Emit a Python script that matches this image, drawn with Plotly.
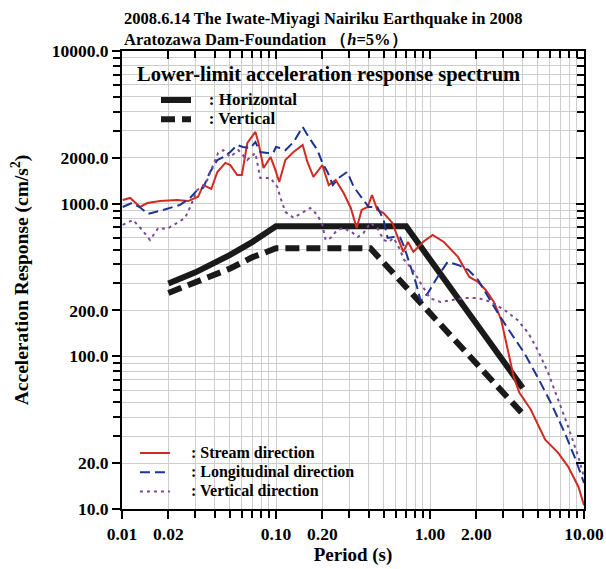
import plotly.graph_objects as go

SERIF = "Liberation Serif"

# lower-limit design spectra (period s, acceleration cm/s2)
design_h_t = [0.02, 0.03, 0.05, 0.07, 0.1, 0.7, 4.0]
design_h_a = [300, 355, 460, 560, 710, 710, 62]
design_v_t = [0.02, 0.03, 0.05, 0.07, 0.1, 0.41, 4.0]
design_v_a = [260, 305, 375, 445, 510, 510, 42]

# observed spectra at the foundation
stream_t = [0.0101, 0.0113, 0.0131, 0.0146, 0.0177, 0.0228, 0.0269, 0.0312, 0.0337, 0.038,
            0.0416, 0.0469, 0.0505, 0.056, 0.06, 0.0652, 0.0735, 0.077, 0.083, 0.0922,
            0.099, 0.105, 0.115, 0.13, 0.149, 0.16, 0.175, 0.2, 0.22, 0.244,
            0.275, 0.306, 0.334, 0.36, 0.394, 0.42, 0.455, 0.5, 0.57, 0.62,
            0.67, 0.72, 0.78, 0.9, 1.04, 1.23, 1.52, 1.8, 2.05, 2.3,
            2.6, 2.9, 3.2, 3.5, 3.8, 4.5, 5.6, 6.8, 7.9, 9.2, 10.0]
stream_a = [1057, 1090, 951, 1010, 1040, 1057, 1040, 1110, 1325, 1248,
            1613, 1848, 1790, 1541, 1540, 2500, 2950, 2500, 1713, 2023,
            1663, 1387, 1932, 2180, 2423, 1875, 1496, 1792, 1325, 1429,
            1175, 937, 693, 910, 951, 1140, 910, 869, 748, 605,
            483, 561, 483, 561, 624, 561, 448, 331, 307, 272,
            227, 173, 110, 73, 58, 45, 28.4, 23.3, 18.9, 14.0, 10.6]

longi_t = [0.0101, 0.0116, 0.013, 0.0148, 0.0185, 0.0238, 0.0277, 0.0308, 0.0337, 0.037,
           0.0416, 0.0455, 0.0505, 0.056, 0.061, 0.068, 0.0735, 0.079, 0.088, 0.096,
           0.1, 0.107, 0.115, 0.13, 0.149, 0.163, 0.186, 0.2, 0.216, 0.234,
           0.255, 0.29, 0.32, 0.36, 0.4, 0.455, 0.5, 0.53, 0.58, 0.64,
           0.68, 0.75, 0.81, 0.87, 0.97, 1.12, 1.3, 1.52, 1.77, 2.05,
           2.4, 2.76, 3.35, 4.1, 5.0, 6.1, 7.5, 8.7, 10.0]
longi_a = [951, 1010, 951, 857, 910, 981, 1090, 1230, 1270, 1589,
           1932, 2023, 2180, 2423, 2350, 2310, 2535, 2180, 2150, 2150,
           2350, 2310, 2240, 2535, 3180, 2733, 2240, 1848, 1613, 1325,
           1473, 1613, 1286, 1090, 951, 951, 782, 596, 605, 600,
           520, 385, 303, 230, 260, 331, 415, 397, 369, 317,
           241, 192, 142, 105, 73, 49.5, 31.5, 21.9, 14.8]

vert_t = [0.0101, 0.0118, 0.0135, 0.0152, 0.0172, 0.0196, 0.0228, 0.0257, 0.0277, 0.0308,
          0.0347, 0.0386, 0.0421, 0.0455, 0.0505, 0.057, 0.065, 0.0735, 0.079, 0.092,
          0.102, 0.107, 0.115, 0.13, 0.14, 0.15, 0.167, 0.186, 0.2, 0.21,
          0.226, 0.25, 0.275, 0.315, 0.34, 0.37, 0.41, 0.455, 0.5, 0.54,
          0.58, 0.63, 0.68, 0.77, 0.87, 1.0, 1.17, 1.37, 1.67, 2.05,
          2.5, 3.05, 3.7, 4.35, 5.0, 5.85, 6.8, 7.9, 9.2, 10.0]
vert_a = [726, 782, 673, 578, 693, 683, 748, 808, 951, 1230,
          1325, 1713, 2150, 2240, 2023, 2240, 1932, 2150, 1473, 1473,
          1286, 1090, 883, 808, 843, 883, 937, 843, 726, 578,
          596, 673, 693, 643, 605, 643, 748, 693, 578, 561,
          596, 513, 428, 369, 300, 240, 227, 234, 241, 241,
          227, 201, 173, 142, 110, 78, 52, 34.5, 21.9, 16.2]

x_tickvals = [0.01, 0.02, 0.1, 0.2, 1, 2, 10]
x_ticktext = ["0.01", "0.02", "0.10", "0.20", "1.00", "2.00", "10.00"]
y_tickvals = [10, 20, 100, 200, 1000, 2000, 10000]
y_ticktext = ["10.0", "20.0", "100.0", "200.0", "1000.0", "2000.0", "10000.0"]

x_minor = [m * 10.0 ** e for e in (-2, -1, 0) for m in range(3, 10)]
y_minor = [m * 10.0 ** e for e in (1, 2, 3) for m in range(3, 10)]


def key_label(text, size, pad):
    # legend row height follows the (small) legend font, the label itself is drawn larger
    return f"<span style='font-size:{size}px'><b>{' ' * pad}{text}</b></span>"


fig = go.Figure()

fig.add_trace(go.Scatter(x=design_h_t, y=design_h_a, mode="lines",
                         name=key_label(": Horizontal", 17, 3),
                         line=dict(color="#1a1a1a", width=6), legend="legend"))
fig.add_trace(go.Scatter(x=design_v_t, y=design_v_a, mode="lines",
                         name=key_label(": Vertical", 17, 3),
                         line=dict(color="#1a1a1a", width=6, dash="14px,7px"), legend="legend"))

fig.add_trace(go.Scatter(x=stream_t, y=stream_a, mode="lines",
                         name=key_label(": Stream direction", 16, 4),
                         line=dict(color="#d02a22", width=2), legend="legend2"))
fig.add_trace(go.Scatter(x=longi_t, y=longi_a, mode="lines",
                         name=key_label(": Longitudinal direction", 16, 4),
                         line=dict(color="#1c3590", width=2, dash="10px,5px"), legend="legend2"))
fig.add_trace(go.Scatter(x=vert_t, y=vert_a, mode="lines",
                         name=key_label(": Vertical direction", 16, 4),
                         line=dict(color="#7a4a98", width=2, dash="3px,4px"), legend="legend2"))

# empty trace so the mirrored tick axes are drawn
fig.add_trace(go.Scatter(x=[], y=[], xaxis="x2", yaxis="y2", showlegend=False, hoverinfo="skip"))

tick_font = dict(family=SERIF, size=17.5, color="black", weight="bold")
grid = "#cdcdcd"

fig.update_layout(
    width=606,
    height=569,
    margin=dict(l=122, r=22, t=51, b=60),
    paper_bgcolor="white",
    plot_bgcolor="white",
    xaxis=dict(
        type="log", range=[-2, 1], automargin=False,
        tickmode="array", tickvals=x_tickvals, ticktext=x_ticktext,
        ticks="outside", ticklen=8, tickwidth=2, tickcolor="black",
        tickfont=tick_font,
        showline=True, linecolor="black", linewidth=2, mirror=True,
        showgrid=True, gridcolor=grid, gridwidth=1,
        minor=dict(tickmode="array", tickvals=x_minor, ticks="outside", ticklen=7,
                   tickwidth=2, tickcolor="black", showgrid=True, gridcolor=grid),
        title=dict(text="Period (s)", font=dict(family=SERIF, size=19, color="black", weight="bold"),
                   standoff=1),
        zeroline=False,
    ),
    yaxis=dict(
        type="log", range=[1, 4], automargin=False,
        tickmode="array", tickvals=y_tickvals, ticktext=y_ticktext,
        ticks="outside", ticklen=8, tickwidth=2, tickcolor="black",
        tickfont=tick_font,
        showline=True, linecolor="black", linewidth=2, mirror=True,
        showgrid=True, gridcolor=grid, gridwidth=1,
        minor=dict(tickmode="array", tickvals=y_minor, ticks="outside", ticklen=7,
                   tickwidth=2, tickcolor="black", showgrid=True, gridcolor=grid),
        title=dict(text="Acceleration Response (cm/s<sup>2</sup>)",
                   font=dict(family=SERIF, size=19.5, color="black", weight="bold"),
                   standoff=18),
        zeroline=False,
    ),
    xaxis2=dict(
        type="log", range=[-2, 1], overlaying="x", side="top", anchor="y", automargin=False,
        tickmode="array", tickvals=x_tickvals, ticks="inside", ticklen=8, tickwidth=1.5,
        tickcolor="black", showticklabels=False, showgrid=False, showline=False,
        minor=dict(tickmode="array", tickvals=x_minor, ticks="inside", ticklen=7,
                   tickwidth=1.5, tickcolor="black", showgrid=False),
        zeroline=False,
    ),
    yaxis2=dict(
        type="log", range=[1, 4], overlaying="y", side="right", anchor="x", automargin=False,
        tickmode="array", tickvals=y_tickvals, ticks="inside", ticklen=8, tickwidth=1.5,
        tickcolor="black", showticklabels=False, showgrid=False, showline=False,
        minor=dict(tickmode="array", tickvals=y_minor, ticks="inside", ticklen=7,
                   tickwidth=1.5, tickcolor="black", showgrid=False),
        zeroline=False,
    ),
    legend=dict(
        x=0.0736, y=0.925, xanchor="left", yanchor="top",
        bgcolor="rgba(0,0,0,0)", borderwidth=0, tracegroupgap=0,
        font=dict(family=SERIF, size=12.5, color="black"),
    ),
    legend2=dict(
        x=0.028, y=0.154, xanchor="left", yanchor="top",
        bgcolor="rgba(0,0,0,0)", borderwidth=0, tracegroupgap=0,
        font=dict(family=SERIF, size=12.5, color="black"),
    ),
    showlegend=True,
)

title_font = dict(family=SERIF, size=16.5, color="black", weight="bold")
fig.add_annotation(text="2008.6.14 The Iwate-Miyagi Nairiku Earthquake in 2008",
                   xref="paper", yref="paper", x=0.0, y=1.072, xanchor="left", yanchor="middle",
                   showarrow=False, font=title_font)
fig.add_annotation(text="Aratozawa Dam-Foundation （<i>h</i>=5%）",
                   xref="paper", yref="paper", x=0.0, y=1.026, xanchor="left", yanchor="middle",
                   showarrow=False, font=title_font)
fig.add_annotation(text="Lower-limit acceleration response spectrum",
                   xref="paper", yref="paper", x=0.028, y=0.9476, xanchor="left", yanchor="middle",
                   showarrow=False, font=dict(family=SERIF, size=20.5, color="black", weight="bold"))

# drop the default 8px page margin so the figure fills the window exactly
fig.write_html("out.html", config={"displayModeBar": False},
               post_script="document.body.style.margin='0';")
